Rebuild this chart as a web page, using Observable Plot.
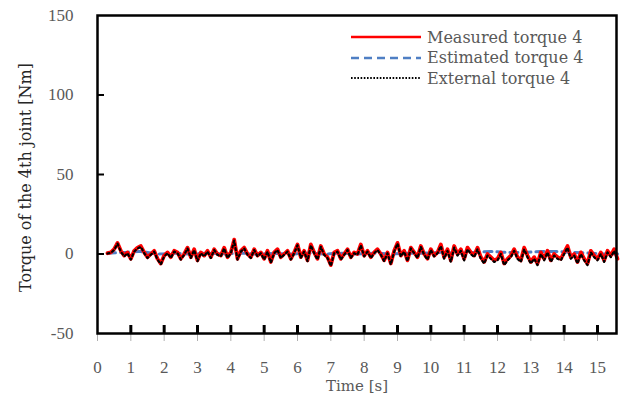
<!DOCTYPE html>
<html>
<head>
<meta charset="utf-8">
<script src="https://cdn.jsdelivr.net/npm/d3@7"></script>
<script src="https://cdn.jsdelivr.net/npm/@observablehq/plot@0.6"></script>
<style>
  body { margin: 0; background: white; }
  #wrap { position: relative; width: 623px; height: 400px; }
  #legend { position: absolute; left: 350px; top: 27px; font-family: "DejaVu Serif", serif; font-size: 16px; color: #595959; }
  #legend .row { display: flex; align-items: center; height: 20.5px; }
  #legend svg { margin-right: 5px; }
</style>
</head>
<body>
<div id="wrap"><div id="legend"></div></div>
<script>
const timeMeas = [];
for (let i = 3; i <= 156; i++) timeMeas.push(+(i / 10).toFixed(1));

const measured = [
  0.5, 1, 3, 7, 2, -1, 1, -3, 2, 4, 5, 1, -2, 0, 2, -3, -6, -1, 1, -2,
  2, 1, -3, 0, 4, -2, 3, -4, 1, -1, 2, -2, 3, 0, -1, 4, -2, 1, 9, -3,
  2, 4, 0, -2, 3, -1, 1, -3, 2, -5, 1, 3, -2, 0, 2, -3, 1, 6, -2, 2,
  -4, 6, 1, -3, 5, 0, -2, -7, 1, 2, -3, 0, 3, -2, 1, 0, 6, -1, 2, -2,
  1, 3, 0, -4, 1, -6, 2, 7, -1, 2, -4, 4, 1, -2, 5, 0, -3, 3, -1, 1,
  6, -2, 3, -4, 5, 0, 3, -3, 4, 1, -1, 4, -2, -5, 0, -2, -4, -3, 1, -6,
  -3, -1, 3, -2, -4, 4, -1, -5, -2, -6, 1, -3, 2, -4, 0, -2, -3, 1, 5, -2,
  0, -5, 1, -3
];
const measuredTail = [-6, 2, -1, -3, 1, -4, 2, -1, 3, -3];

const external = [
  0.3, 0.8, 2.5, 6.5, 1.5, -1.5, 0.5, -3.5, 1.5, 3.5, 4.5, 0.5, -2.5, -0.5, 1.5, -3.5, -6.5, -1.5, 0.5, -2.5,
  1.5, 0.5, -3.5, -0.5, 3.5, -2.5, 2.5, -4.5, 0.5, -1.5, 1.5, -2.5, 2.5, -0.5, -1.5, 3.5, -2.5, 0.5, 8.5, -3.5,
  1.5, 3.5, -0.5, -2.5, 2.5, -1.5, 0.5, -3.5, 1.5, -5.5, 0.5, 2.5, -2.5, -0.5, 1.5, -3.5, 0.5, 5.5, -2.5, 1.5,
  -4.5, 5.5, 0.5, -3.5, 4.5, -0.5, -2.5, -7.5, 0.5, 1.5, -3.5, -0.5, 2.5, -2.5, 0.5, -0.5, 5.5, -1.5, 1.5, -2.5,
  0.5, 2.5, -0.5, -4.5, 0.5, -6.5, 1.5, 6.5, -1.5, 1.5, -4.5, 3.5, 0.5, -2.5, 4.5, -0.5, -3.5, 2.5, -1.5, 0.5,
  5, -3, 2, -5, 4, -1, 2, -4, 3, 0, -2, 3, -3, -6, -1, -3, -5, -4, 0, -7,
  -4, -2, 2, -3, -5, 3, -2, -6, -3, -7, 0, -4, 1, -5, -1, -3, -4, 0, 4, -3,
  -1, -6, 0, -4
];
const externalTail = [-7, 1, -2, -4, 0, -5, 1, -2, 2, -4];

const timeEst = [0.3, 0.8, 1.3, 1.8, 2.3, 2.8, 3.3, 3.8, 4.3, 4.8, 5.3, 5.8, 6.3, 6.8, 7.3, 7.8,
  8.3, 8.8, 9.3, 9.8, 10.3, 10.8, 11.3, 11.8, 12.3, 12.8, 13.3, 13.8, 14.3, 14.8, 15.3, 15.6];
const estimated = [0.5, 1, 1.5, 0, 0.5, 0, 0.5, 0, 0.5, 0, 0.3, 0, 0.5, 0, 0.5, 0,
  0.5, 0, 0.5, 0.5, 1, 0.5, 1, 1.5, 1, 1, 1.5, 1.5, 1, 0.5, 0, 0];

const xTicks = [0, 1, 2, 3, 4, 5, 6, 7, 8, 9, 10, 11, 12, 13, 14, 15];
const xInnerTicks = [1, 2, 3, 4, 5, 6, 7, 8, 9, 10, 11, 12, 13, 14, 15];
const yTicks = [-50, 0, 50, 100, 150];
const yInnerTicks = [0, 50, 100];
const seriesNames = ["Measured torque 4", "Estimated torque 4", "External torque 4"];
const yTitle = "Torque of the 4th joint [Nm]";
const xTitle = "Time [s]";

const measAll = measured.concat(measuredTail);
const extAll = external.concat(externalTail);
const n = Math.min(timeMeas.length, measAll.length, extAll.length);
const measData = d3.range(n).map(i => ({t: timeMeas[i], v: measAll[i]}));
const extData = d3.range(n).map(i => ({t: timeMeas[i], v: extAll[i]}));
const estData = timeEst.map((t, i) => ({t, v: estimated[i]}));

const numFont = "Liberation Serif";
const wordFont = "DejaVu Serif";
const red = "#ff0000", blue = "#4f7fc4", black = "#000000";
const fmt = d => String(d);

const W = 623, H = 400, mL = 97, mR = 7, mT = 15, mB = 67;
const frameW = W - mL - mR, frameH = H - mT - mB;

const chart = Plot.plot({
  width: W, height: H,
  marginLeft: mL, marginRight: mR, marginTop: mT, marginBottom: mB,
  x: {domain: [0, 15.57]},
  y: {domain: [-50, 150]},
  style: {background: "white", fontFamily: numFont, fontSize: "17px", color: "#595959"},
  marks: [
    Plot.axisX(xTicks, {tickSize: 8, stroke: "#b0b0b0", strokeWidth: 1, tickPadding: 19, fill: "#595959", label: null, fontSize: 17, fontFamily: numFont, tickFormat: fmt}),
    Plot.axisY(yTicks, {tickSize: 0, tickPadding: 24, fill: "#595959", label: null, fontSize: 17, fontFamily: numFont, tickFormat: fmt}),
    Plot.line(estData, {x: "t", y: "v", stroke: blue, strokeWidth: 3, strokeDasharray: "8,5", curve: "catmull-rom"}),
    Plot.line(measData, {x: "t", y: "v", stroke: red, strokeWidth: 3.8}),
    Plot.line(extData, {x: "t", y: "v", stroke: black, strokeWidth: 2.2, strokeDasharray: "2,3"}),
    Plot.ruleX(xInnerTicks, {x: d => d, insetTop: frameH - 8, stroke: "black", strokeWidth: 3}),
    Plot.ruleY(yInnerTicks, {y: d => d, insetRight: frameW - 7, stroke: "black", strokeWidth: 2}),
    Plot.frame({stroke: black, strokeWidth: 2.5}),
    Plot.text([xTitle], {frameAnchor: "bottom", lineAnchor: "middle", dy: 53, fontFamily: wordFont, fontSize: 15, fill: "#595959"}),
    Plot.text([yTitle], {frameAnchor: "left", textAnchor: "middle", lineAnchor: "middle", rotate: -90, dx: -72, dy: 3, fontFamily: wordFont, fontSize: 16, fill: "#262626"})
  ]
});

const wrap = document.getElementById("wrap");
wrap.insertBefore(chart, wrap.firstChild);

const legend = document.getElementById("legend");
const styles = [
  {stroke: red, width: 2.5, dash: null},
  {stroke: blue, width: 2.5, dash: "8,5"},
  {stroke: black, width: 2, dash: "1.6,1.6"}
];
seriesNames.forEach((name, i) => {
  const row = document.createElement("div");
  row.className = "row";
  const s = styles[i];
  row.innerHTML = `<svg width="72" height="10"><line x1="1" y1="5" x2="71" y2="5" stroke="${s.stroke}" stroke-width="${s.width}" ${s.dash ? `stroke-dasharray="${s.dash}"` : ""}/></svg><span>${name}</span>`;
  legend.appendChild(row);
});
</script>
</body>
</html>
